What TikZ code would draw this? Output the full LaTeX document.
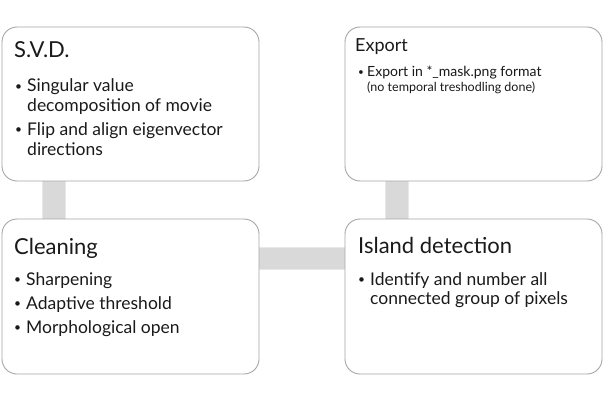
\documentclass[tikz,border=0pt]{standalone}
\usepackage{fontspec}
\setmainfont{Lato}
\usetikzlibrary{fit}
\definecolor{boxline}{HTML}{A6A6A6}
\definecolor{conn}{HTML}{D9D9D9}
\definecolor{connedge}{HTML}{E8E8E8}
\definecolor{txt}{HTML}{1A1A1A}
\tikzset{
  card/.style={draw=boxline, line width=0.9pt, rounded corners=15pt, fill=white, inner sep=0pt},
  link/.style={draw=connedge, line width=0.8pt, fill=conn},
  ttl/.style={anchor=base west, inner sep=0pt, text=txt, font=\fontsize{22}{26}\selectfont},
  ttlsmall/.style={anchor=base west, inner sep=0pt, text=txt, font=\fontsize{18}{21}\selectfont},
  bul/.style={anchor=base west, inner sep=0pt, text=txt, font=\fontsize{17.5}{20}\selectfont},
  bulsmall/.style={anchor=base west, inner sep=0pt, text=txt, font=\fontsize{14}{16}\selectfont},
  note/.style={anchor=base west, inner sep=0pt, text=txt, font=\fontsize{12.5}{14}\selectfont},
  bdot/.style={anchor=base west, inner sep=0pt, text=txt, font=\fontsize{12}{14}\selectfont},
  bdotsmall/.style={anchor=base west, inner sep=0pt, text=txt, font=\fontsize{10}{12}\selectfont}
}
\begin{document}
\begin{tikzpicture}[x=1pt,y=-1pt]
\useasboundingbox (0,0) rectangle (604,401);
\fill[white] (0,0) rectangle (604,401);
% box geometry (corners)
\coordinate (svdA) at (2,27);   \coordinate (svdB) at (259,181);
\coordinate (expA) at (345,27); \coordinate (expB) at (602,181);
\coordinate (clnA) at (2,219);  \coordinate (clnB) at (259,374);
\coordinate (islA) at (345,219);\coordinate (islB) at (602,374);
% connectors (behind boxes)
\path[link] (42,170) rectangle (65,230);
\path[link] (385,170) rectangle (408,230);
\path[link] (250,247) rectangle (355,269);
% boxes
\node[card, fit=(svdA)(svdB)] (svd) {};
\node[card, fit=(expA)(expB)] (exp) {};
\node[card, fit=(clnA)(clnB)] (cln) {};
\node[card, fit=(islA)(islB)] (isl) {};
% S.V.D.
\node[ttl] (svdt) at (14,58) {S.V.D.};
\node[bdot] (svdd1) at (15,90.5) {\textbullet};
\node[bul] (svd1a) at (27,92) {Singular value};
\node[bul] (svd1b) at (27,111) {decomposition of movie};
\node[bdot] (svdd2) at (15,133.5) {\textbullet};
\node[bul] (svd2a) at (27,135) {Flip and align eigenvector};
\node[bul] (svd2b) at (27,155) {directions};
% Export
\node[ttlsmall] (expt) at (355,52) {Export};
\node[bdotsmall] (expd1) at (358,76) {\textbullet};
\node[bulsmall] (exp1) at (367,77) {Export in *\_mask.png format};
\node[note] (exp2) at (367,92) {(no temporal treshodling done)};
% Cleaning
\node[ttl] (clnt) at (14,254) {Cleaning};
\node[bdot] (clnd1) at (14,283.5) {\textbullet};
\node[bul] (cln1) at (26,285) {Sharpening};
\node[bdot] (clnd2) at (14,307.5) {\textbullet};
\node[bul] (cln2) at (26,309) {Adaptive threshold};
\node[bdot] (clnd3) at (14,331.5) {\textbullet};
\node[bul] (cln3) at (26,333) {Morphological open};
% Island detection
\node[ttl] (islt) at (358,253) {Island detection};
\node[bdot] (isld1) at (358,283.5) {\textbullet};
\node[bul] (isl1a) at (370,285) {Identify and number all};
\node[bul] (isl1b) at (370,304) {connected group of pixels};
\end{tikzpicture}
\end{document}
